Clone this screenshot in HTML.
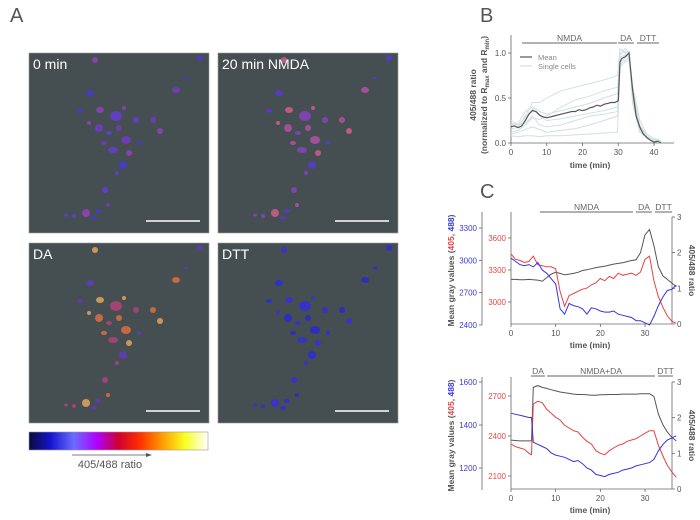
<!DOCTYPE html>
<html><head><meta charset="utf-8"><style>
html,body{margin:0;padding:0;background:#fff;}
svg{display:block;font-family:"Liberation Sans",sans-serif;}
</style></head><body>
<svg id="fig" width="700" height="520" viewBox="0 0 700 520">
<defs>
<linearGradient id="lut" x1="0" x2="1" y1="0" y2="0">
<stop offset="0" stop-color="#0a0a3a"/><stop offset="0.12" stop-color="#1414d0"/><stop offset="0.25" stop-color="#6b6bff"/><stop offset="0.38" stop-color="#b000ff"/><stop offset="0.5" stop-color="#d00030"/><stop offset="0.62" stop-color="#ff3000"/><stop offset="0.75" stop-color="#ffa000"/><stop offset="0.87" stop-color="#f8ff20"/><stop offset="1" stop-color="#ffffff"/>
</linearGradient>
</defs>
<text x="10" y="22" font-size="20" fill="#555">A</text>
<text x="480" y="22" font-size="20" fill="#555">B</text>
<text x="480" y="198" font-size="20" fill="#555">C</text>
<g id="imgs"></g>
<rect x="29" y="432" width="179" height="18" fill="url(#lut)" stroke="#999" stroke-width="0.6"/>
<line x1="72" y1="455" x2="150" y2="455" stroke="#555" stroke-width="0.8"/>
<polygon points="152,455 146,453 146,457" fill="#555"/>
<text x="110" y="468" font-size="11" fill="#555" text-anchor="middle">405/488 ratio</text>
<g id="pb"></g><g id="pc1"></g><g id="pc2"></g>
</svg>
<script>
// ---------- Panel B data ----------
const bTimes=[0,1,2,3,4,5,6,7,8,9,10,11,12,13,14,15,16,17,18,19,20,21,22,23,24,25,26,27,28,29,30,30.5,31,32,33,34,35,36,37,38,39,40,41,42];
const bMean=[0.18,0.19,0.17,0.19,0.25,0.32,0.36,0.35,0.31,0.29,0.28,0.29,0.3,0.31,0.32,0.33,0.34,0.35,0.35,0.37,0.36,0.37,0.39,0.4,0.42,0.41,0.43,0.44,0.45,0.45,0.47,0.9,0.94,0.96,1.0,0.6,0.3,0.18,0.1,0.06,0.03,0.01,0.02,0.0];
const cellTimes=[0,2,4,6,8,10,14,18,22,26,29.8,30.5,32,33,34,36,38,40,42];
const cell1=[0.15,0.18,0.3,0.45,0.45,0.5,0.58,0.62,0.66,0.7,0.75,1.05,1.0,1.02,0.6,0.15,0.05,0.02,0.0];
const cell2=[0.2,0.22,0.35,0.4,0.35,0.32,0.36,0.4,0.44,0.5,0.55,0.95,0.98,0.95,0.5,0.2,0.08,0.03,0.01];
const cell3=[0.08,0.07,0.08,0.08,0.07,0.08,0.08,0.09,0.1,0.11,0.12,0.85,0.9,0.92,0.55,0.18,0.06,0.02,0.01];
const cell4=[0.22,0.2,0.28,0.38,0.3,0.25,0.27,0.3,0.33,0.36,0.4,1.0,1.05,1.0,0.45,0.12,0.06,0.04,0.02];
const cell5=[0.12,0.14,0.2,0.28,0.26,0.3,0.4,0.48,0.52,0.58,0.62,0.9,0.95,1.0,0.65,0.25,0.1,0.05,0.03];
const cell6=[0.25,0.2,0.22,0.3,0.2,0.18,0.2,0.25,0.3,0.32,0.35,0.98,1.02,0.98,0.5,0.15,0.05,0.02,0.0];
const cell7=[0.1,0.12,0.15,0.18,0.15,0.12,0.14,0.16,0.2,0.25,0.3,0.88,0.92,0.95,0.6,0.2,0.08,0.03,0.01];
const bXTicks=[0,10,20,30,40];
const bYTicks=[0.0,0.5,1.0];
const bYTickLabels=["0.0","0.5","1.0"];
// ---------- Panel C top data ----------
const c1Times=[0,1,2,3,4,5,6,7,8,9,10,11,12,13,14,15,16,17,18,19,20,21,22,23,24,25,26,27,28,29,30,31,32,33,34,35,36,37];
const c1Ratio=[1.25,1.25,1.24,1.24,1.25,1.24,1.23,1.2,1.3,1.4,1.45,1.42,1.38,1.4,1.42,1.45,1.5,1.52,1.55,1.58,1.6,1.62,1.65,1.68,1.7,1.72,1.75,1.78,1.8,2.0,2.5,2.65,2.2,1.6,1.35,1.25,1.15,1.05];
const c1Red=[3450,3400,3390,3370,3380,3430,3350,3340,3330,3330,3310,3100,2960,3060,3080,3100,3120,3130,3160,3180,3220,3200,3240,3220,3270,3250,3260,3270,3250,3280,3400,3430,3200,3050,2950,2870,2820,2800];
const c1Blue=[3020,2990,2960,2950,2960,2940,2980,2910,2880,2830,2780,2550,2500,2600,2580,2570,2550,2500,2560,2550,2530,2520,2520,2530,2500,2490,2480,2470,2440,2440,2420,2400,2480,2580,2660,2720,2730,2770];
const c1BlueTicks=[2400,2700,3000,3300];
const c1RedTicks=[3000,3300,3600];
// ---------- Panel C bottom data ----------
const c2Times=[0,1,2,3,4,4.6,5,6,7,8,9,10,11,12,13,14,15,16,17,18,19,20,21,22,23,24,25,26,27,28,29,30,31,32,33,34,35,36,37];
const c2Ratio=[1.37,1.36,1.35,1.35,1.35,1.35,2.85,2.9,2.85,2.82,2.78,2.75,2.72,2.7,2.68,2.66,2.65,2.65,2.64,2.63,2.63,2.64,2.64,2.65,2.65,2.65,2.66,2.66,2.66,2.66,2.67,2.67,2.67,2.6,2.1,1.8,1.6,1.45,1.35];
const c2Red=[2340,2320,2310,2300,2270,2260,2640,2660,2650,2600,2570,2540,2520,2480,2460,2440,2430,2390,2360,2340,2290,2270,2260,2290,2310,2330,2340,2360,2370,2380,2400,2420,2440,2440,2330,2250,2180,2130,2090];
const c2Blue=[1455,1450,1445,1440,1435,1435,1320,1310,1300,1290,1270,1260,1255,1250,1240,1230,1235,1220,1200,1190,1170,1165,1160,1170,1175,1180,1190,1195,1200,1210,1215,1220,1225,1240,1280,1310,1330,1340,1350];
const c2BlueTicks=[1200,1400,1600];
const c2RedTicks=[2100,2400,2700];
const cXTicks=[0,10,20,30];
const ratioTicks=[0,1,2,3];

const NS="http://www.w3.org/2000/svg";
function mk(parent,tag,attrs,txt){const e=document.createElementNS(NS,tag);for(const k in attrs)e.setAttribute(k,attrs[k]);if(txt!==undefined)e.textContent=txt;parent.appendChild(e);return e;}
function lin(d0,d1,r0,r1){return v=>r0+(v-d0)*(r1-r0)/(d1-d0);}
function pathD(xs,ys,sx,sy){return xs.map((t,i)=>(i?"L":"M")+sx(t).toFixed(1)+","+sy(ys[i]).toFixed(1)).join("");}
const GRAY="#666";

// ---------- Panel A images ----------
const imgs=document.getElementById('imgs');
const panels=[{x:29,y:53,label:"0 min",cols:["#4a34e0","#6a3ae8","#7a36d0","#9a40c8"]},
{x:218,y:53,label:"20 min NMDA",cols:["#5a36e0","#9040d0","#c050b0","#e06090"]},
{x:29,y:243,label:"DA",cols:["#6038d0","#c04080","#f07040","#f8b060"]},
{x:218,y:243,label:"DTT",cols:["#2a24f0","#3228e8","#2a20e0","#3828f0"]}];
const blobs=[[61,40,4,3],[87,63,6,5],[97,87,5,4],[71,57,4,3],[51,58,3,2],[107,67,3,3],[124,67,3,3],[131,78,3,3],[94,112,4,4],[76,137,3,3],[79,152,2,2],[57,160,4,4],[69,158,3,2],[37,162,2,1.5],[147,37,4,3],[66,7,3,3],[171,5,3,3],[84,97,5,3],[70,75,4,4],[100,100,3,3],[157,25,2,1.5],[80,80,3,2],[90,75,3,3],[60,70,2,2],[110,90,2,2],[88,120,2,2],[75,90,3,2],[95,55,2,2],[65,165,3,2],[45,163,2,2]];
panels.forEach((p,pi)=>{
  const g=mk(imgs,'g',{});
  
  
  mk(g,'rect',{x:p.x,y:p.y,width:180,height:180,fill:"#454f51",stroke:"#999","stroke-width":0.6});
  blobs.forEach((b,i)=>{mk(g,'ellipse',{cx:p.x+b[0],cy:p.y+b[1],rx:b[2],ry:b[3],fill:p.cols[i%4],opacity:0.75});});
  mk(g,'line',{x1:p.x+117,y1:p.y+168,x2:p.x+171,y2:p.y+168,stroke:"#fff","stroke-width":1.6});
  const t=mk(g,'text',{x:p.x+4,y:p.y+16,"font-size":14,fill:"#fff"},p.label);
  
  
});

// ---------- Panel B ----------
(function(){
const g=document.getElementById('pb');
const sx=lin(0,40,511,654), sy=lin(0,1,143,53);
mk(g,'line',{x1:511,y1:35,x2:511,y2:143,stroke:GRAY,"stroke-width":0.8});
mk(g,'line',{x1:511,y1:143,x2:674,y2:143,stroke:GRAY,"stroke-width":0.8});
bYTicks.forEach((v,i)=>{mk(g,'line',{x1:508,y1:sy(v),x2:511,y2:sy(v),stroke:GRAY,"stroke-width":0.8});
 const t=mk(g,'text',{x:506,y:sy(v)+3,"font-size":8,fill:"#555","text-anchor":"end"},bYTickLabels[i]);
 });
bXTicks.forEach(v=>{mk(g,'line',{x1:sx(v),y1:143,x2:sx(v),y2:146,stroke:GRAY,"stroke-width":0.8});
 const t=mk(g,'text',{x:sx(v),y:155,"font-size":8,fill:"#555","text-anchor":"middle"},String(v));
 });
const xt=mk(g,'text',{x:590,y:168,"font-size":8.5,fill:"#555","text-anchor":"middle","font-weight":"bold"},"time (min)");

const yt=mk(g,'text',{transform:"translate(476,95) rotate(-90)","font-size":8.5,fill:"#555","text-anchor":"middle","font-weight":"bold"},"405/488 ratio");

const yt2=mk(g,'text',{transform:"translate(487,95) rotate(-90)","font-size":8.5,fill:"#555","text-anchor":"middle","font-weight":"bold"});
yt2.innerHTML='(normalized to R<tspan font-size="6" dy="2">max</tspan><tspan dy="-2"> and R</tspan><tspan font-size="6" dy="2">min</tspan><tspan dy="-2">)</tspan>';

[cell1,cell2,cell3,cell4,cell5,cell6,cell7].forEach(c=>{const p=mk(g,'path',{d:pathD(cellTimes,c,sx,sy),fill:"none",stroke:"#d3dfe0","stroke-width":1});
 });
const m=mk(g,'path',{d:pathD(bTimes,bMean,sx,sy),fill:"none",stroke:"#555","stroke-width":1.2});

[[522,617,"NMDA"],[618,634,"DA"],[637,659,"DTT"]].forEach(b=>{mk(g,'line',{x1:b[0],y1:43,x2:b[1],y2:43,stroke:GRAY,"stroke-width":1});
 const t=mk(g,'text',{x:(b[0]+b[1])/2,y:41,"font-size":8.5,fill:"#666","text-anchor":"middle"},b[2]);
 });
mk(g,'line',{x1:520,y1:57,x2:532,y2:57,stroke:"#555","stroke-width":1.2});
const l1=mk(g,'text',{x:538,y:60,"font-size":7.5,fill:"#888"},"Mean");
mk(g,'line',{x1:520,y1:66,x2:532,y2:66,stroke:"#d3dfe0","stroke-width":1.2});
const l2=mk(g,'text',{x:538,y:69,"font-size":7.5,fill:"#888"},"Single cells");
})();

// ---------- Panel C ----------
function panelC(id,top,bot,times,ratio,red,blue,bT,bMin,bMax,bTop,bBot,rT,rMin,rMax,rTop,rBot,bars){
const g=document.getElementById(id);
const sx=lin(0,30,511,645), sr=lin(0,3,bot,top);
const sb=lin(bMin,bMax,bBot,bTop), sred=lin(rMin,rMax,rBot,rTop);
mk(g,'line',{x1:511,y1:top-5,x2:511,y2:bot,stroke:GRAY,"stroke-width":0.8});
mk(g,'line',{x1:482,y1:top-5,x2:482,y2:bot+1,stroke:GRAY,"stroke-width":0.8});
mk(g,'line',{x1:672,y1:top,x2:672,y2:bot,stroke:GRAY,"stroke-width":0.8});
mk(g,'line',{x1:511,y1:bot,x2:672,y2:bot,stroke:GRAY,"stroke-width":0.8});
bT.forEach(v=>{mk(g,'line',{x1:479,y1:sb(v),x2:482,y2:sb(v),stroke:GRAY,"stroke-width":0.8});
 const t=mk(g,'text',{x:477,y:sb(v)+3,"font-size":8,fill:"#3a3adc","text-anchor":"end"},String(v));
 });
rT.forEach(v=>{mk(g,'line',{x1:508,y1:sred(v),x2:511,y2:sred(v),stroke:GRAY,"stroke-width":0.8});
 const t=mk(g,'text',{x:506,y:sred(v)+3,"font-size":8,fill:"#e04848","text-anchor":"end"},String(v));
 });
ratioTicks.forEach(v=>{mk(g,'line',{x1:672,y1:sr(v),x2:675,y2:sr(v),stroke:GRAY,"stroke-width":0.8});
 const t=mk(g,'text',{x:677,y:sr(v)+3,"font-size":8,fill:"#555"},String(v));
 });
cXTicks.forEach(v=>{mk(g,'line',{x1:sx(v),y1:bot,x2:sx(v),y2:bot+3,stroke:GRAY,"stroke-width":0.8});
 const t=mk(g,'text',{x:sx(v),y:bot+12,"font-size":8,fill:"#555","text-anchor":"middle"},String(v));
 });
const xt=mk(g,'text',{x:590,y:bot+24,"font-size":8.5,fill:"#555","text-anchor":"middle","font-weight":"bold"},"time (min)");

const cy=(top+bot)/2;
const yl=mk(g,'text',{transform:"translate(454,"+cy+") rotate(-90)","font-size":8.5,fill:"#555","text-anchor":"middle","font-weight":"bold"});
yl.innerHTML='Mean gray values (<tspan fill="#e04848">405</tspan>, <tspan fill="#3a3adc">488</tspan>)';

const yr=mk(g,'text',{transform:"translate(689,"+cy+") rotate(90)","font-size":8.5,fill:"#555","text-anchor":"middle","font-weight":"bold"},"405/488 ratio");

const pk=mk(g,'path',{d:pathD(times,ratio,sx,sr),fill:"none",stroke:"#555","stroke-width":1});

const pr=mk(g,'path',{d:pathD(times,red,sx,sred),fill:"none",stroke:"#e84040","stroke-width":1});

const pb=mk(g,'path',{d:pathD(times,blue,sx,sb),fill:"none",stroke:"#3434e0","stroke-width":1});

bars.forEach(b=>{mk(g,'line',{x1:b[0],y1:b[3],x2:b[1],y2:b[3],stroke:GRAY,"stroke-width":1});
 const t=mk(g,'text',{x:(b[0]+b[1])/2,y:b[3]-2,"font-size":8.5,fill:"#666","text-anchor":"middle"},b[2]);
 });
}
panelC('pc1',217,324,c1Times,c1Ratio,c1Red,c1Blue,c1BlueTicks,2400,3300,228,325,c1RedTicks,3000,3600,238,302,
 [[540,633,"NMDA",212],[636,652,"DA",212],[655,672,"DTT",212]]);
panelC('pc2',382,489,c2Times,c2Ratio,c2Red,c2Blue,c2BlueTicks,1200,1600,382,468,c2RedTicks,2100,2700,396,476,
 [[531,545,"DA",376],[547,655,"NMDA+DA",376],[658,673,"DTT",376]]);
</script>
</body></html>
